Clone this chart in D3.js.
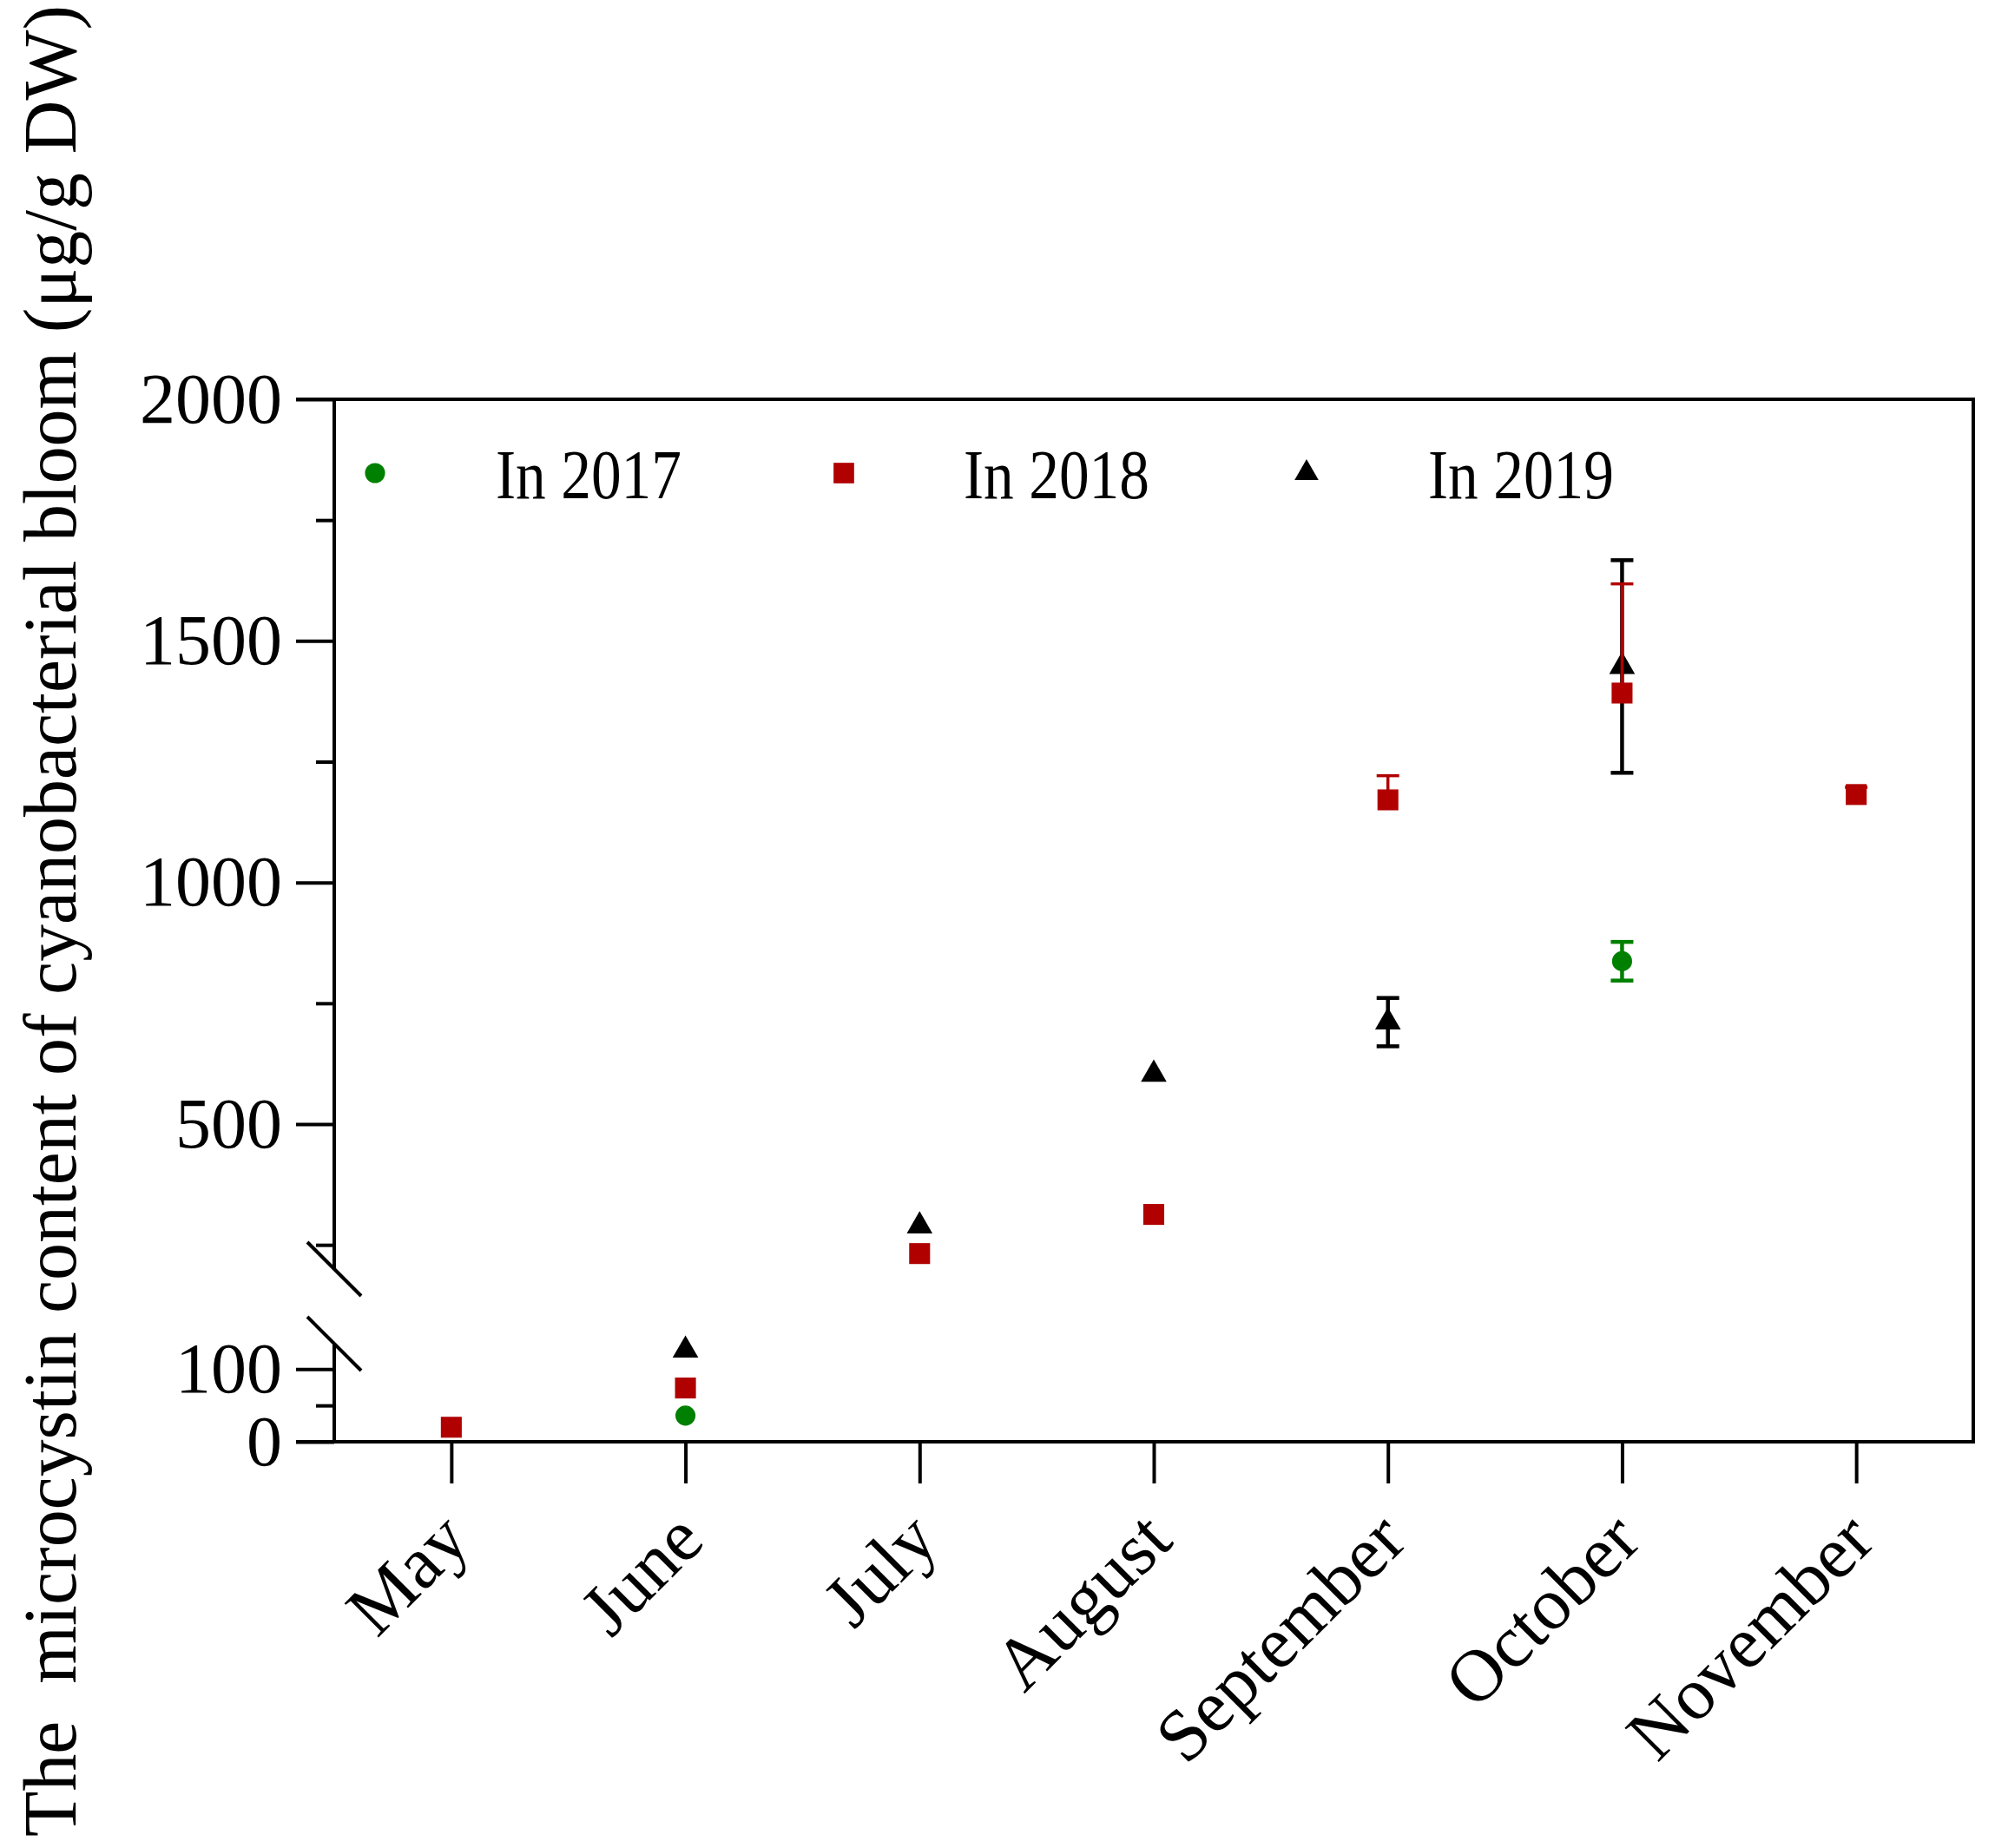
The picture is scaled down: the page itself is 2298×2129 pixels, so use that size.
<!DOCTYPE html>
<html>
<head>
<meta charset="utf-8">
<script src="https://cdn.jsdelivr.net/npm/d3@7"></script>
<style>
  body { margin: 0; background: #fff; }
  text { font-family: "Liberation Serif", "Times New Roman", serif; fill: #000; }
</style>
</head>
<body>
<div id="viz"></div>
<script>
/*** data ***/
const months = ["May", "June", "July", "August", "September", "October", "November"];
const years = ["In 2017", "In 2018", "In 2019"];
const mean2017 = [null, 36, null, null, null, 837, null];
const err2017  = [null, 0, null, null, null, 40, null];
const mean2018 = [20, 74, 232, 313, 1171, 1392, 1182];
const err2018  = [0, 0, 0, 0, 50, 226, 15];
const mean2019 = [null, 126, 289, 603, 711, 1447, null];
const err2019  = [null, 0, 0, 0, 50, 220, null];
const majorHigh = [500, 1000, 1500, 2000];
const minorHigh = [250, 750, 1250, 1750];
const majorLow = [0, 100];
const minorLow = [50];
const breakLow = 135, breakHigh = 200;

/*** global variable/s ***/
const width = 2298, height = 2129;
const plotLeft = 385, plotRight = 2273, plotTop = 460, plotBottom = 1661;
const green = "#008000", red = "#b00000", black = "#000";

const svg = d3.select("#viz")
  .append("svg")
  .attr("width", width)
  .attr("height", height);

const x = d3.scalePoint()
  .domain(months)
  .range([plotLeft, plotRight])
  .padding(0.5);

const yHigh = d3.scaleLinear().domain([breakHigh, 2000]).range([1462, plotTop]);
// lower piece keeps its own, wider spacing (0..100 ~ 84px)
const yLow = d3.scaleLinear().domain([0, breakLow]).range([plotBottom, plotBottom - breakLow * 0.837]);
function y(v) { return v <= breakLow ? yLow(v) : yHigh(v); }

/*** frame ***/
const frame = svg.append("g").attr("stroke", black).attr("stroke-width", 4).attr("fill", "none");
frame.append("line").attr("x1", plotLeft - 44).attr("x2", plotRight + 2).attr("y1", plotTop).attr("y2", plotTop);
frame.append("line").attr("x1", plotRight).attr("x2", plotRight).attr("y1", plotTop).attr("y2", plotBottom);
frame.append("line").attr("x1", plotLeft - 44).attr("x2", plotRight + 2).attr("y1", plotBottom).attr("y2", plotBottom);
frame.append("line").attr("x1", plotLeft).attr("x2", plotLeft).attr("y1", plotTop).attr("y2", yHigh(breakHigh));
frame.append("line").attr("x1", plotLeft).attr("x2", plotLeft).attr("y1", yLow(breakLow)).attr("y2", plotBottom);

// break marks
[yHigh(breakHigh), yLow(breakLow)].forEach(function(b) {
  frame.append("line")
    .attr("x1", plotLeft - 31).attr("y1", b - 31)
    .attr("x2", plotLeft + 31).attr("y2", b + 31);
});

/*** y axes ***/
function yAxis(scale, major, minor) {
  svg.append("g")
    .attr("transform", `translate(${plotLeft},0)`)
    .call(d3.axisLeft(scale).tickValues(major).tickSize(44).tickPadding(16).tickFormat(d3.format("d")))
    .call(g => g.select(".domain").remove())
    .call(g => g.selectAll("line").attr("stroke-width", 4))
    .call(g => g.selectAll("text").attr("font-size", 82).attr("font-family", "Liberation Serif"));
  svg.append("g")
    .attr("transform", `translate(${plotLeft},0)`)
    .call(d3.axisLeft(scale).tickValues(minor).tickSize(21).tickFormat(""))
    .call(g => g.select(".domain").remove())
    .call(g => g.selectAll("line").attr("stroke-width", 4));
}
yAxis(yHigh, majorHigh, minorHigh);
yAxis(yLow, majorLow, minorLow);

/*** x axis ***/
svg.append("g")
  .attr("transform", `translate(0,${plotBottom})`)
  .call(d3.axisBottom(x).tickSize(48).tickSizeOuter(0))
  .call(g => g.select(".domain").remove())
  .call(g => g.selectAll("line").attr("stroke-width", 4))
  .call(g => g.selectAll("text")
    .attr("font-size", 85)
    .attr("font-family", "Liberation Serif")
    .attr("text-anchor", "end")
    .attr("dy", 0)
    .attr("y", 0)
    .attr("transform", "translate(24,117) rotate(-45)"));

/*** y title ***/
svg.append("text")
  .attr("transform", "translate(87,1061) rotate(-90)")
  .attr("text-anchor", "middle")
  .attr("font-size", 86)
  .attr("textLength", 2110)
  .attr("lengthAdjust", "spacingAndGlyphs")
  .style("white-space", "pre")
  .text("The  microcystin content of cyanobacterial bloom (\u03bcg/g DW)");

/*** points ***/
const series = [
  { mean: mean2019, err: err2019, color: black, shape: d3.symbolTriangle, size: 380, both: true },
  { mean: mean2018, err: err2018, color: red, shape: d3.symbolSquare, size: 580, both: false },
  { mean: mean2017, err: err2017, color: green, shape: d3.symbolCircle, size: 420, both: true }
];

series.forEach(function(s) {
  const pts = months.map((m, i) => ({ m: m, v: s.mean[i], e: s.err[i] })).filter(d => d.v != null);
  const bars = svg.append("g")
    .attr("stroke", s.color)
    .attr("stroke-width", s.color === red ? 3.5 : 4.5);
  pts.filter(d => d.e > 0).forEach(function(d) {
    const lo = s.both ? d.v - d.e : d.v;
    bars.append("line").attr("x1", x(d.m)).attr("x2", x(d.m)).attr("y1", y(d.v + d.e)).attr("y2", y(lo));
    bars.append("line").attr("x1", x(d.m) - 13).attr("x2", x(d.m) + 13).attr("y1", y(d.v + d.e)).attr("y2", y(d.v + d.e));
    if (s.both) {
      bars.append("line").attr("x1", x(d.m) - 13).attr("x2", x(d.m) + 13).attr("y1", y(lo)).attr("y2", y(lo));
    }
  });
  svg.append("g")
    .selectAll("path")
    .data(pts)
    .join("path")
    .attr("d", d3.symbol(s.shape, s.size))
    .attr("fill", s.color)
    .attr("transform", d => `translate(${x(d.m)},${y(d.v)})`);
});

/*** legend ***/
const legendX = [432, 972, 1505];
const legendTextX = [571, 1110, 1645];
const legendShapes = [
  { shape: d3.symbolCircle, size: 420, color: green },
  { shape: d3.symbolSquare, size: 560, color: red },
  { shape: d3.symbolTriangle, size: 330, color: black }
];
const legend = svg.append("g");
legend.selectAll("path")
  .data(legendShapes)
  .join("path")
  .attr("d", d => d3.symbol(d.shape, d.size)())
  .attr("fill", d => d.color)
  .attr("transform", (d, i) => `translate(${legendX[i]},545)`);
legend.selectAll("text")
  .data(years)
  .join("text")
  .attr("x", (d, i) => legendTextX[i])
  .attr("y", 574)
  .attr("font-size", 80)
  .attr("textLength", 214)
  .attr("lengthAdjust", "spacingAndGlyphs")
  .text(d => d);
</script>
</body>
</html>
